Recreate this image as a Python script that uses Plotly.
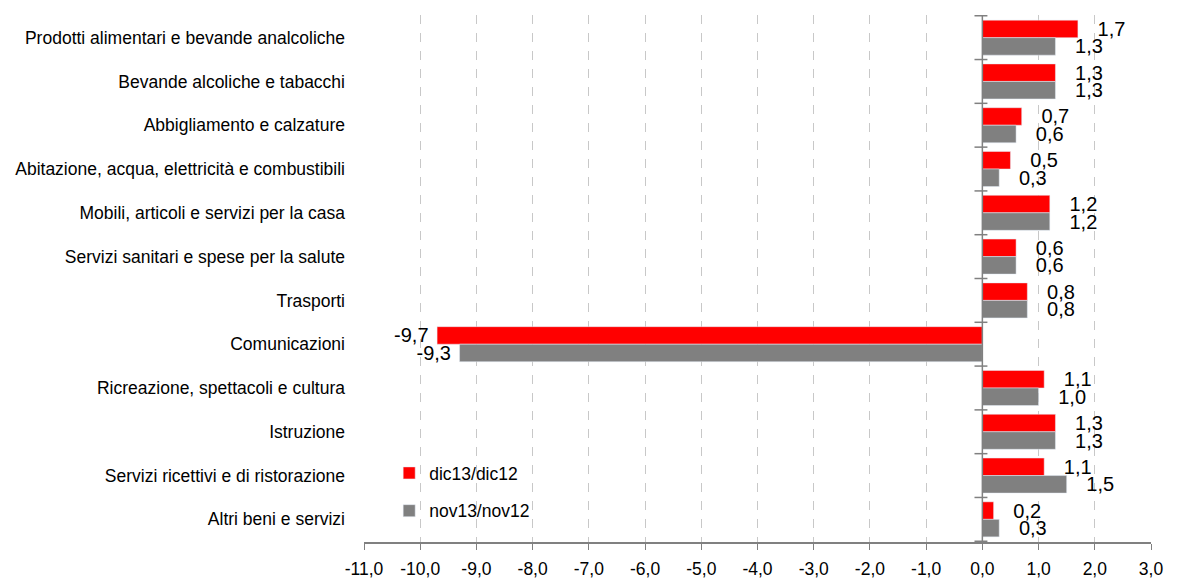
import plotly.graph_objects as go

categories = [
    "Prodotti alimentari e bevande analcoliche",
    "Bevande alcoliche e tabacchi",
    "Abbigliamento e calzature",
    "Abitazione, acqua, elettricità e combustibili",
    "Mobili, articoli e servizi per la casa",
    "Servizi sanitari e spese per la salute",
    "Trasporti",
    "Comunicazioni",
    "Ricreazione, spettacoli e cultura",
    "Istruzione",
    "Servizi ricettivi e di ristorazione",
    "Altri beni e servizi",
]
dic13 = [1.7, 1.3, 0.7, 0.5, 1.2, 0.6, 0.8, -9.7, 1.1, 1.3, 1.1, 0.2]
nov13 = [1.3, 1.3, 0.6, 0.3, 1.2, 0.6, 0.8, -9.3, 1.0, 1.3, 1.5, 0.3]
series_names = ["dic13/dic12", "nov13/nov12"]
tick_vals = list(range(-11, 4))
tick_text = [f"{v:.1f}".replace(".", ",") for v in tick_vals]

def fmt(v):
    s = f"{v:.1f}".replace(".", ",")
    return (s + " ") if v < 0 else ("   " + s)

FONT = "Liberation Sans"
NARROW = "Liberation Sans Narrow, Arial Narrow, Liberation Sans"
FS = 17.5
LFS = 20
fig = go.Figure()
fig.add_trace(go.Bar(
    y=categories, x=dic13, orientation="h", name=series_names[0],
    legendgroup="a",
    marker=dict(color="#FF0000"),
    text=[fmt(v) for v in dic13], textposition="outside",
    textfont=dict(family=NARROW, size=LFS, color="#000000"),
    constraintext="none", cliponaxis=False,
))
fig.add_trace(go.Bar(
    y=categories, x=nov13, orientation="h", name=series_names[1],
    legendgroup="b",
    marker=dict(color="#808080"),
    text=[fmt(v) for v in nov13], textposition="outside",
    textfont=dict(family=NARROW, size=LFS, color="#000000"),
    constraintext="none", cliponaxis=False,
))

# y-axis line at x=0 with boundary tick marks
shapes = [dict(type="line", xref="x", yref="paper", x0=0, x1=0, y0=0, y1=1,
               line=dict(color="#808080", width=1.5), layer="above")]
n = len(categories)
for i in range(n + 1):
    shapes.append(dict(type="line", xref="x", yref="y", x0=-0.14, x1=0.09,
                       y0=i - 0.5, y1=i - 0.5,
                       line=dict(color="#808080", width=1.5), layer="above"))

fig.update_layout(
    width=1184, height=585,
    margin=dict(l=354, r=41, t=7, b=51),
    plot_bgcolor="white", paper_bgcolor="white",
    barmode="group", bargap=0.2, bargroupgap=0.0,
    font=dict(family=FONT, size=FS, color="#000000"),
    showlegend=True,
    legend=dict(x=0.032, y=0.165, xanchor="left", yanchor="top",
                bgcolor="rgba(255,255,255,0)", font=dict(size=FS),
                itemwidth=30, tracegroupgap=12, traceorder="grouped"),
    shapes=shapes,
)
fig.update_xaxes(
    range=[-11, 3], tickvals=tick_vals, ticktext=tick_text,
    showgrid=True, gridcolor="#C8C8C8", griddash="dash", gridwidth=1,
    showline=True, linecolor="#808080", linewidth=1.5,
    ticks="outside", ticklen=6, tickcolor="#808080",
    zeroline=False, tickfont=dict(size=FS), ticklabelstandoff=4,
)
fig.update_yaxes(
    autorange="reversed", showgrid=False, showline=False, ticks="",
    ticklabelstandoff=18, tickfont=dict(size=FS),
)
fig.write_html("out.html")
